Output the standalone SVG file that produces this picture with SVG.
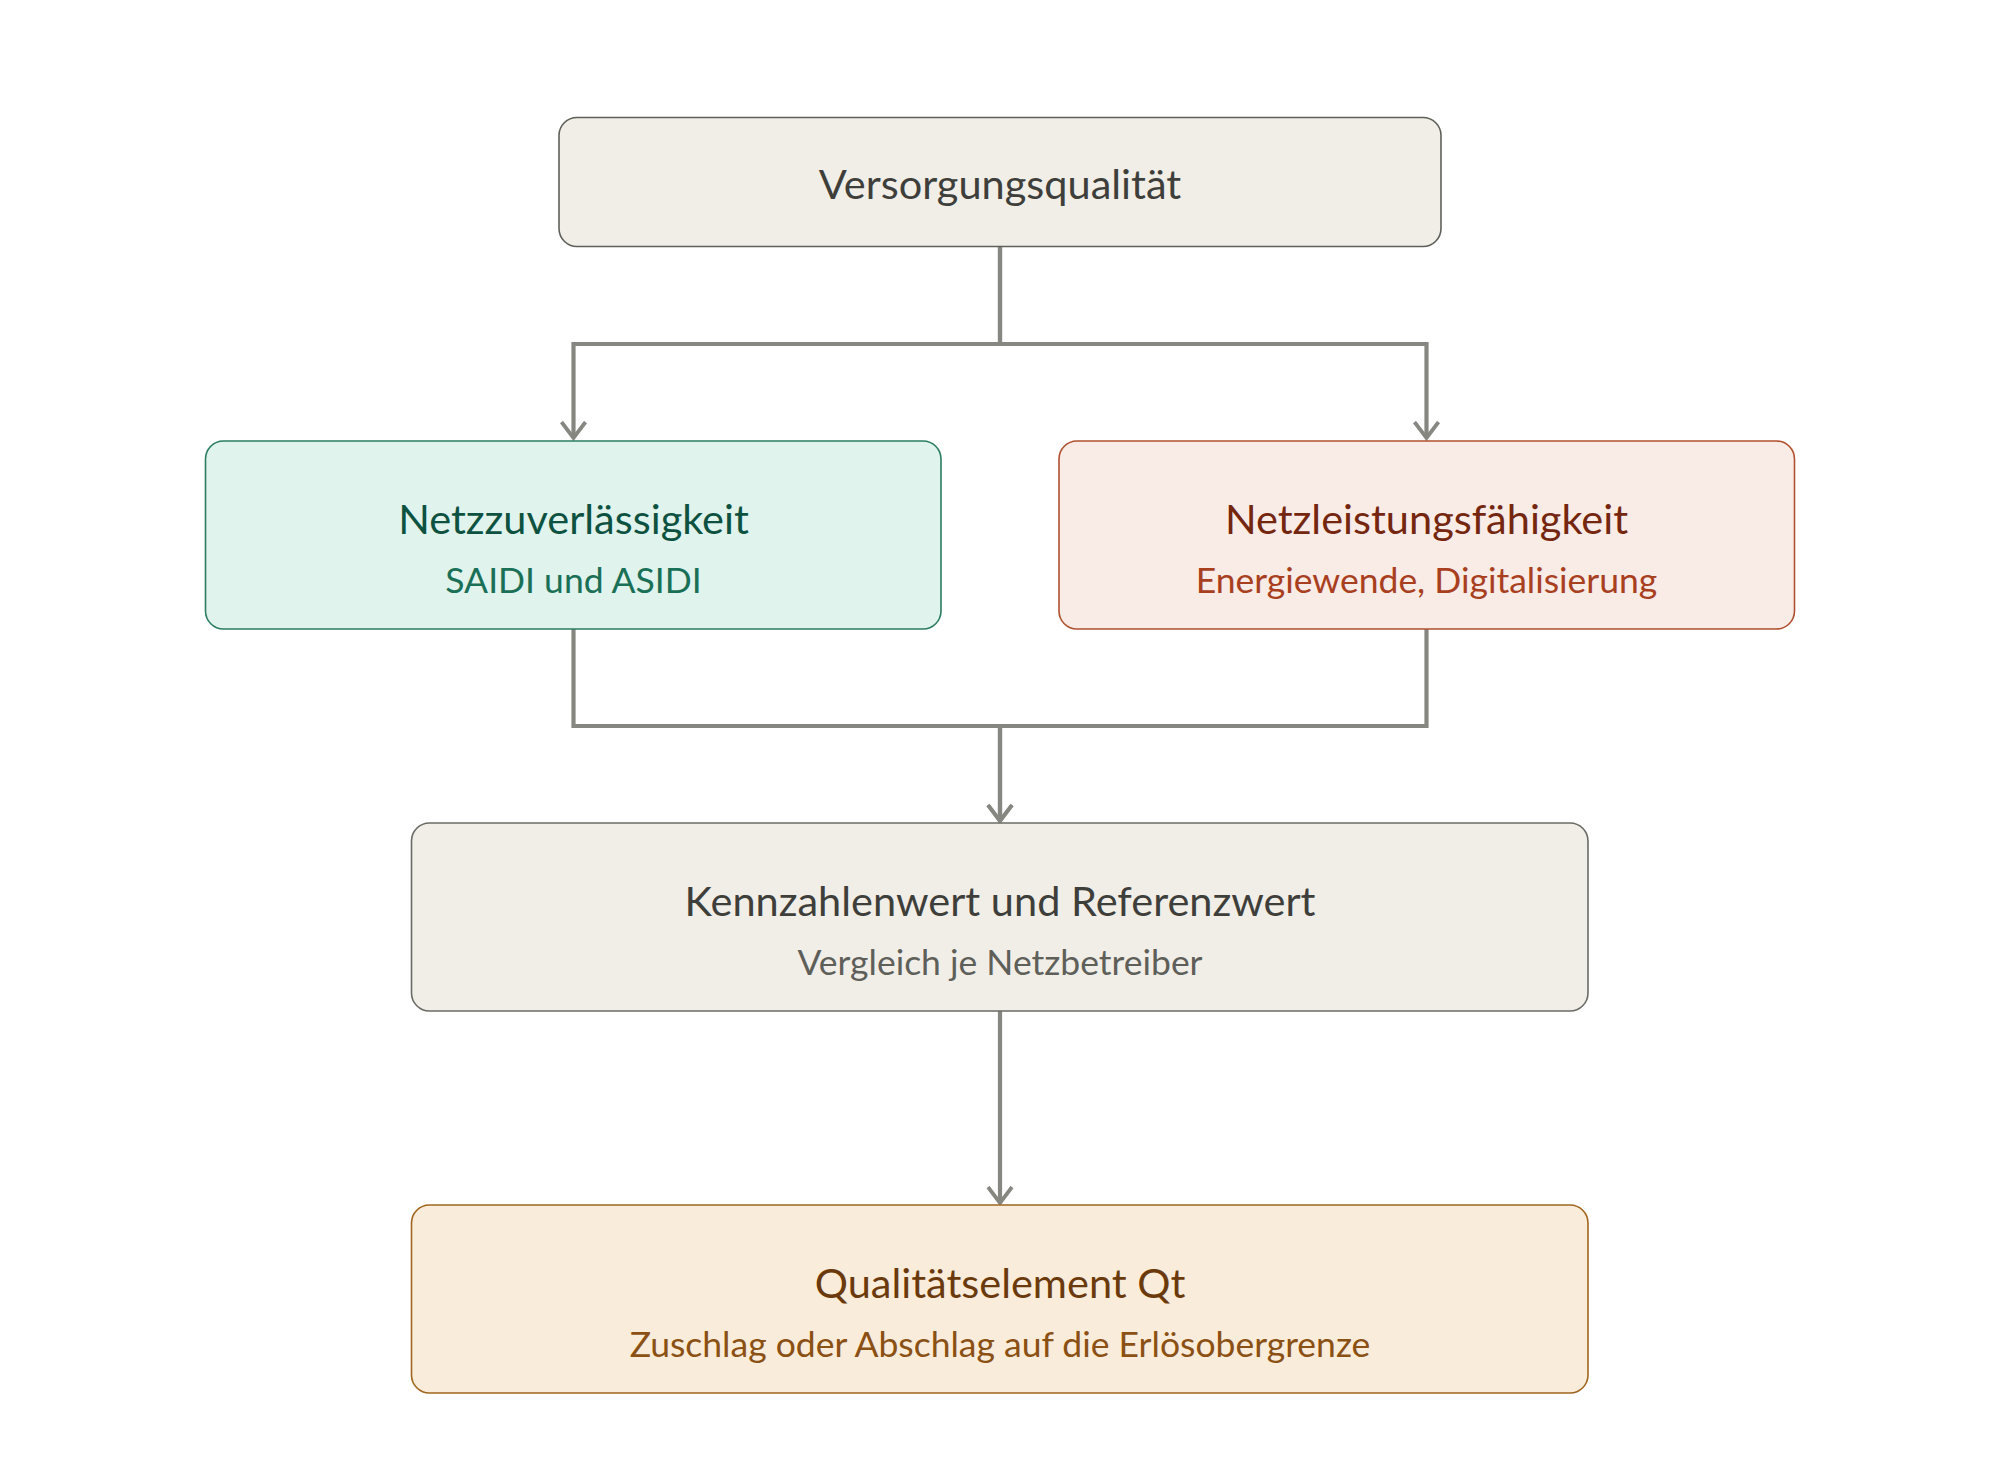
<svg xmlns="http://www.w3.org/2000/svg" width="2000" height="1482" viewBox="0 0 2000 1482">
<style>
text{font-family:"Lato","Noto Sans","Liberation Sans",sans-serif;text-anchor:middle}
.t{font-size:41.5px}
.s{font-size:35.5px}
.box{stroke-width:1.6}
.con{fill:none;stroke:#878782;stroke-width:4.2}
</style>
<defs>
<marker id="arr" viewBox="0 -4 20 28" refX="17" refY="10" markerWidth="20" markerHeight="28" markerUnits="userSpaceOnUse" orient="auto">
<path d="M1 -2 L17 10 L1 22" fill="none" stroke="#878782" stroke-width="3.8"/>
</marker>
</defs>
<rect width="2000" height="1482" fill="#ffffff"/>
<g id="connectors">
<path class="con" d="M1000 247 V344 H573.5 V438" marker-end="url(#arr)"/>
<path class="con" d="M1000 247 V344 H1426.5 V438" marker-end="url(#arr)"/>
<path class="con" d="M573.5 629 V726 H1000 V821" marker-end="url(#arr)"/>
<path class="con" d="M1426.5 629 V726 H1000 V821" marker-end="url(#arr)"/>
<path class="con" d="M1000 1011 V1203" marker-end="url(#arr)"/>
</g>
<g id="node-versorgung">
<rect class="box" x="559" y="117.5" width="882" height="129" rx="18" fill="#f1eee8" stroke="#5f5f5a"/>
<text class="t" x="1000" y="199" fill="#3e3e3a">Versorgungsqualität</text>
</g>
<g id="node-netzzuverlaessigkeit">
<rect class="box" x="205.5" y="441" width="735.5" height="188" rx="18" fill="#e0f3ec" stroke="#2b7d62"/>
<text class="t" x="573.5" y="534" fill="#0d5241">Netzzuverlässigkeit</text>
<text class="s" x="573.5" y="593" fill="#1a7057">SAIDI und ASIDI</text>
</g>
<g id="node-netzleistung">
<rect class="box" x="1059" y="441" width="735.5" height="188" rx="18" fill="#f9ebe6" stroke="#b0502e"/>
<text class="t" x="1426.5" y="534" fill="#74260f">Netzleistungsfähigkeit</text>
<text class="s" x="1426.5" y="593" fill="#a83f1e">Energiewende, Digitalisierung</text>
</g>
<g id="node-kennzahlen">
<rect class="box" x="411.5" y="823" width="1176.5" height="188" rx="18" fill="#f1eee8" stroke="#6b6b66"/>
<text class="t" x="1000" y="916" fill="#3e3e3a">Kennzahlenwert und Referenzwert</text>
<text class="s" x="1000" y="975" fill="#5f5f5a">Vergleich je Netzbetreiber</text>
</g>
<g id="node-qualitaetselement">
<rect class="box" x="411.5" y="1205" width="1176.5" height="188" rx="18" fill="#faecda" stroke="#a0661e"/>
<text class="t" x="1000" y="1298" fill="#6b3a0c">Qualitätselement Qt</text>
<text class="s" x="1000" y="1357" fill="#8a5014">Zuschlag oder Abschlag auf die Erlösobergrenze</text>
</g>
</svg>
